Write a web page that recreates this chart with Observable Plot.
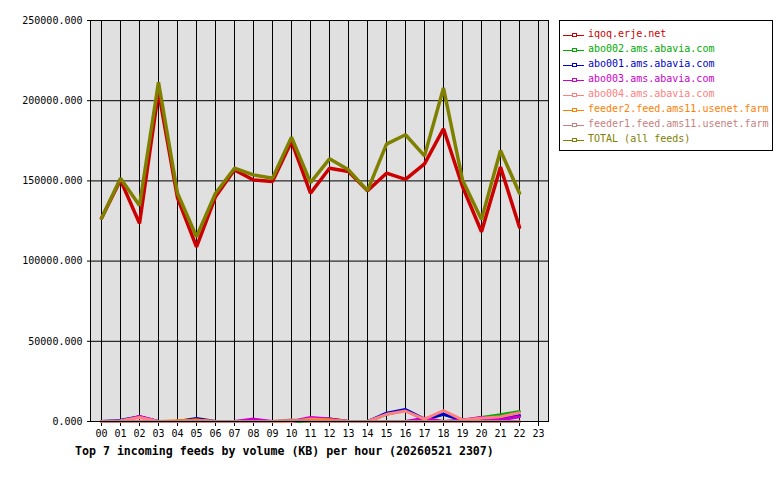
<!DOCTYPE html>
<html>
<head>
<meta charset="utf-8">
<script src="https://cdn.jsdelivr.net/npm/d3@7"></script>
<script src="https://cdn.jsdelivr.net/npm/@observablehq/plot@0.6"></script>
<style>
  body { margin: 0; background: white; }
  #wrap { position: relative; width: 780px; height: 480px; overflow: hidden; }
  #legend { position: absolute; left: 559px; top: 20px; width: 212px; height: 129px;
    border: 1px solid black; background: white; font-family: "DejaVu Sans Mono", monospace; font-size: 10px; }
  .item { position: absolute; left: 3px; height: 15px; display: flex; align-items: center; white-space: nowrap; }
  .item svg { margin-right: 4px; shape-rendering: crispEdges; }
  #title { position: absolute; left: 75px; top: 444px; font-family: "DejaVu Sans Mono", monospace;
    font-weight: bold; font-size: 11.6px; white-space: nowrap; }
</style>
</head>
<body>
<div id="wrap"></div>
<script>
const hours = ["00","01","02","03","04","05","06","07","08","09","10","11","12","13","14","15","16","17","18","19","20","21","22","23"];
const yTicks = [0, 50000, 100000, 150000, 200000, 250000];
const seriesNames = ["iqoq.erje.net","abo002.ams.abavia.com","abo001.ams.abavia.com","abo003.ams.abavia.com","abo004.ams.abavia.com","feeder2.feed.ams11.usenet.farm","feeder1.feed.ams11.usenet.farm","TOTAL (all feeds)"];
const seriesColors = ["#cc0000","#00aa00","#0000cc","#cc00cc","#ff8080","#ff8000","#c88080","#808000"];

// values for hours 00..22 (no data for 23)
const iqoq    = [126700,150600,123500,205800,139400,108900,140200,156900,150600,149600,174600,142300,157900,155800,143900,154800,151000,160600,182500,146500,118300,158600,121100];
const abo002  = [0,0,0,0,0,0,0,0,0,0,0,0,0,0,0,4500,7000,1000,4500,500,2500,4200,6300];
const abo001  = [0,800,3000,0,0,1900,0,0,0,0,0,1500,1500,0,0,5200,7500,1500,4500,1000,1500,2000,3800];
const abo003  = [0,0,3200,0,0,0,0,0,1500,0,0,2500,1500,0,0,0,0,2000,0,1000,2500,1000,3000];
const abo004  = [0,500,2500,0,0,1000,0,0,0,0,0,1500,1000,0,0,4500,6500,1500,6800,1000,2000,3000,5500];
const feeder2 = [0,0,0,0,500,800,0,0,0,0,800,500,800,0,0,0,0,0,0,0,0,0,0];
const feeder1 = [0,0,0,0,0,0,0,0,0,0,1000,0,0,0,0,0,0,0,0,0,0,0,0];
const total   = [126700,151700,134600,211500,142300,115200,142300,157900,153750,151700,177300,148900,163750,156900,143900,172900,178750,165600,207900,150600,126000,168900,142300];

const allSeries = [iqoq, abo002, abo001, abo003, abo004, feeder2, feeder1, total];
const rows = [];
allSeries.forEach((vals, si) => vals.forEach((v, i) => rows.push({hour: hours[i], value: v, series: seriesNames[si]})));

const lineMarks = seriesNames.map((name, si) =>
  Plot.line(rows.filter(d => d.series === name), {x: "hour", y: "value", stroke: seriesColors[si], strokeWidth: (si === 0 || si === 7) ? 3.5 : 3, strokeLinejoin: "miter"})
);

const chart = Plot.plot({
  width: 780, height: 480,
  marginLeft: 90, marginRight: 232, marginTop: 20, marginBottom: 59,
  style: {background: "white", fontFamily: "DejaVu Sans Mono, monospace", fontSize: "10px", color: "black"},
  x: {type: "point", domain: hours, padding: 0.5, label: null},
  y: {domain: [0, 250000], label: null},
  marks: [
    Plot.frame({fill: "#e0e0e0"}),
    Plot.ruleX(hours, {x: d => d, stroke: "black", strokeWidth: 1}),
    Plot.ruleY(yTicks, {y: d => d, stroke: "black", strokeWidth: 1}),
    Plot.axisX({ticks: hours, tickSize: 5, tickPadding: 3, label: null, fill: "black", stroke: "black"}),
    Plot.axisY({ticks: yTicks, tickFormat: d => d.toFixed(3), tickSize: 3, tickPadding: 5, label: null, fill: "black", stroke: "black"}),
    ...lineMarks,
    Plot.frame({stroke: "black", strokeWidth: 1})
  ]
});

const wrap = document.getElementById("wrap");
wrap.appendChild(chart);

const legend = document.createElement("div");
legend.id = "legend";
seriesNames.forEach((name, i) => {
  const item = document.createElement("div");
  item.className = "item";
  item.style.top = (5 + i * 15) + "px";
  item.style.color = seriesColors[i];
  item.innerHTML = `<svg width="21" height="9"><rect x="0" y="6" width="21" height="1" fill="${seriesColors[i]}"/><rect x="9" y="4" width="4" height="3" fill="white" stroke="${seriesColors[i]}" stroke-width="1"/></svg><span>${name}</span>`;
  legend.appendChild(item);
});
wrap.appendChild(legend);

const title = document.createElement("div");
title.id = "title";
title.textContent = "Top 7 incoming feeds by volume (KB) per hour (20260521 2307)";
wrap.appendChild(title);
</script>
</body>
</html>
